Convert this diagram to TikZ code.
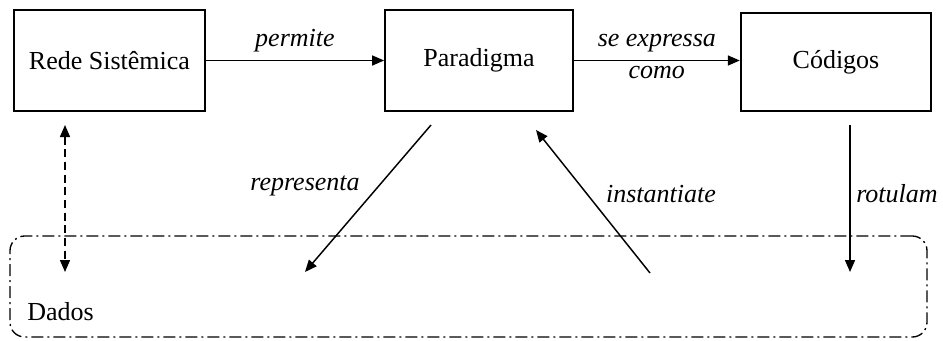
\documentclass[tikz,border=0pt]{standalone}
\usepackage{fontspec}
\setmainfont{Liberation Serif}
\usepackage{tikz}
\usetikzlibrary{arrows.meta}

\tikzset{
  caixa/.style={draw, line width=1.3pt, minimum width=143pt, minimum height=75.75pt, inner sep=0pt},
  seta/.style={line width=1.1pt, -{Triangle[length=9pt,width=7.5pt]}},
  rotulo/.style={font=\itshape, inner sep=1pt},
}

\begin{document}
\fontsize{19.5}{23}\selectfont
\begin{tikzpicture}[x=0.75pt,y=0.75pt,yscale=-1,xscale=1]
\useasboundingbox (0,0) rectangle (943,340);

%Shape: Rectangle
\node (rede) [caixa] at (109.5,60.5) {Rede Sistêmica};
%Shape: Rectangle
\node (paradigma) [caixa, minimum width=141pt] at (479,60.5) {Paradigma};
%Shape: Rectangle
\node (codigos) [caixa, minimum height=73.5pt] at (836,62) {Códigos};

%Shape: Rounded Rectangle
\node (dadosbox) [draw, line width=1pt, rounded corners=11pt, minimum width=687.75pt, minimum height=75.75pt, dash pattern={on 9pt off 3pt on 1.5pt off 3pt}] at (468.5,286.5) {};
% Text Node
\node (dados) [anchor=west, inner sep=0pt] at (27,312) {Dados};

%Straight Lines
\draw [seta] (rede.east) -- (paradigma.west) node (lpermite) [rotulo, midway, above=5pt] {permite};

%Straight Lines
\draw [seta] (paradigma.east) -- (paradigma.east -| codigos.west)
  node (lexpressa) [rotulo, midway, above=5pt] {se expressa}
  node (lcomo) [rotulo, midway, below=3pt] {como};

%Straight Lines
\coordinate (rs1) at (65,125);
\coordinate (rs2) at (65,272);
\draw [seta, {Triangle[length=9pt,width=7.5pt]}-{Triangle[length=9pt,width=7.5pt]}, dash pattern={on 6pt off 3.5pt}] (rs1) -- (rs2);

%Straight Lines
\coordinate (rp1) at (431,125);
\coordinate (rp2) at (305,272);
\draw [seta] (rp1) -- (rp2);
% Text Node
\node (lrepresenta) [rotulo] at (305,186) {representa};

%Straight Lines
\coordinate (in1) at (650,273);
\coordinate (in2) at (536,130);
\draw [seta] (in1) -- (in2);
% Text Node
\node (linstantiate) [rotulo] at (661,194) {instantiate};

%Straight Lines
\coordinate (ro1) at (850,125);
\coordinate (ro2) at (850,272);
\draw [seta] (ro1) -- (ro2);
% Text Node
\node (lrotulam) [rotulo] at (897,194) {rotulam};

\end{tikzpicture}
\end{document}
